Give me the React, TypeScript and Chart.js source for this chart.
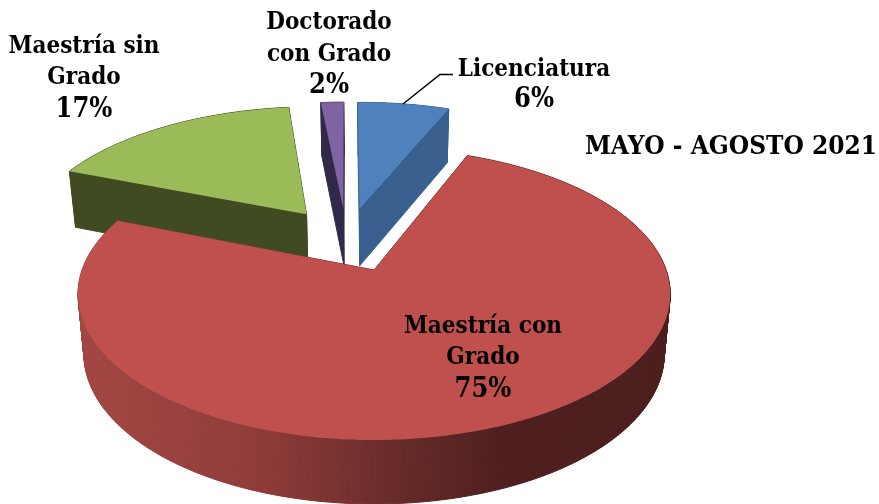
import React, { useEffect, useRef } from "react";
import { Chart, registerables } from "chart.js";

Chart.register(...registerables);

const categories = ["Licenciatura", "Maestría con Grado", "Maestría sin Grado", "Doctorado con Grado"];
const shares = [6.25, 74.95, 17.25, 1.55];
const labelLines = [["Licenciatura"], ["Maestría con", "Grado"], ["Maestría sin", "Grado"], ["Doctorado", "con Grado"]];
const topColors = ["#4F81BD", "#C0504D", "#9BBB59", "#8064A2"];
const sideColors = ["#385F8D", "#8A3A37", "#414B22", "#32284A"];
const chartTitle = "MAYO - AGOSTO 2021";
const drawOrder = [2, 3, 0, 1];

const FONT = "bold 24px 'DejaVu Serif Condensed'";
const PERCENT_FONT = "bold 27px 'DejaVu Serif Condensed'";
const TITLE_FONT = "bold 26px 'DejaVu Serif Condensed'";
const labelAnchors = [
  { x: 534, ys: [76, 107] },
  { x: 483, ys: [333, 364, 397] },
  { x: 84, ys: [53, 84, 117] },
  { x: 329, ys: [29, 61, 93] },
];

// Perspective of the pie plane, fitted to the reference.
const VIEW = { x0: 374, y0: 270, a: 292, b: 141.9, p: 0.165, cu: -0.0975, cv: 0.2255, depth: 59.1, depthPow: 0.45, shrink: 0.98 };

type Pt = { x: number; y: number };
const project = (U: number, V: number, lower: boolean): Pt => {
  const u = U + VIEW.cu;
  const v = V + VIEW.cv;
  const w = 1 + VIEW.p * v;
  const x = (VIEW.a * u) / w;
  const y = VIEW.y0 - (VIEW.b * v) / w;
  return lower
    ? { x: VIEW.x0 + x * VIEW.shrink, y: y + VIEW.depth / Math.pow(w, VIEW.depthPow) }
    : { x: VIEW.x0 + x, y };
};

const outline = (arc: any, lower: boolean): Pt[] => {
  const mid = (arc.startAngle + arc.endAngle) / 2;
  const d = (arc.options.offset || 0) / 4 / arc.outerRadius;
  const ou = Math.cos(mid) * d;
  const ov = -Math.sin(mid) * d;
  const pts = [project(ou, ov, lower)];
  const steps = Math.max(4, Math.ceil((arc.endAngle - arc.startAngle) / 0.01));
  for (let i = 0; i <= steps; i++) {
    const t = arc.startAngle + ((arc.endAngle - arc.startAngle) * i) / steps;
    pts.push(project(ou + Math.cos(t), ov - Math.sin(t), lower));
  }
  return pts;
};

const pie3d = {
  id: "pie3d",
  beforeDatasetDraw(chart: any) {
    const ctx: CanvasRenderingContext2D = chart.ctx;
    const arcs = chart.getDatasetMeta(0).data;
    ctx.save();
    ctx.lineJoin = "round";
    for (const i of drawOrder) {
      const arc = arcs[i];
      const top = outline(arc, false);
      const low = outline(arc, true);
      let side: any = sideColors[i];
      if (shares[i] === Math.max(...shares)) {
        const g = ctx.createLinearGradient(85, 0, 665, 0);
        g.addColorStop(0, "#A34643");
        g.addColorStop(0.3, "#8F3C39");
        g.addColorStop(0.55, "#652A28");
        g.addColorStop(0.72, "#4E1F1E");
        g.addColorStop(1, "#4C1E1D");
        side = g;
      }
      ctx.fillStyle = side;
      ctx.strokeStyle = side;
      ctx.lineWidth = 1;
      const n = top.length;
      for (let k = 0; k < n; k++) {
        const k2 = (k + 1) % n;
        ctx.beginPath();
        ctx.moveTo(top[k].x, top[k].y);
        ctx.lineTo(top[k2].x, top[k2].y);
        ctx.lineTo(low[k2].x, low[k2].y);
        ctx.lineTo(low[k].x, low[k].y);
        ctx.closePath();
        ctx.fill();
        ctx.stroke();
      }
      ctx.beginPath();
      top.forEach((p, k) => (k ? ctx.lineTo(p.x, p.y) : ctx.moveTo(p.x, p.y)));
      ctx.closePath();
      ctx.fillStyle = topColors[i];
      ctx.fill();
    }
    ctx.restore();
    return false;
  },
  afterDatasetsDraw(chart: any) {
    const ctx: CanvasRenderingContext2D = chart.ctx;
    ctx.save();
    ctx.strokeStyle = "#000";
    ctx.lineWidth = 1.5;
    ctx.beginPath();
    ctx.moveTo(453, 74.5);
    ctx.lineTo(440, 74.5);
    ctx.lineTo(403, 104);
    ctx.stroke();
    ctx.fillStyle = "#000";
    ctx.textAlign = "center";
    ctx.textBaseline = "alphabetic";
    shares.forEach((s, i) => {
      const lines = labelLines[i];
      const anchor = labelAnchors[i];
      ctx.font = FONT;
      lines.forEach((line, j) => ctx.fillText(line, anchor.x, anchor.ys[j]));
      ctx.font = PERCENT_FONT;
      ctx.fillText(`${Math.round(s)}%`, anchor.x, anchor.ys[lines.length]);
    });
    ctx.font = TITLE_FONT;
    ctx.fillText(chartTitle, 731, 154);
    ctx.restore();
  },
};

export default function App() {
  const ref = useRef<HTMLCanvasElement>(null);
  useEffect(() => {
    const chart = new Chart(ref.current!, {
      type: "pie",
      data: {
        labels: categories,
        datasets: [{ data: shares, backgroundColor: topColors, offset: 166, borderWidth: 0 }],
      },
      options: {
        animation: false,
        responsive: false,
        rotation: -0.9,
        plugins: { legend: { display: false }, tooltip: { enabled: false }, title: { display: false } },
      },
      plugins: [pie3d],
    } as any);
    return () => chart.destroy();
  }, []);
  return (
    <div style={{ position: "fixed", left: 0, top: 0, width: 879, height: 504, background: "#fff" }}>
      <canvas ref={ref} width={879} height={504} style={{ display: "block" }} />
    </div>
  );
}
